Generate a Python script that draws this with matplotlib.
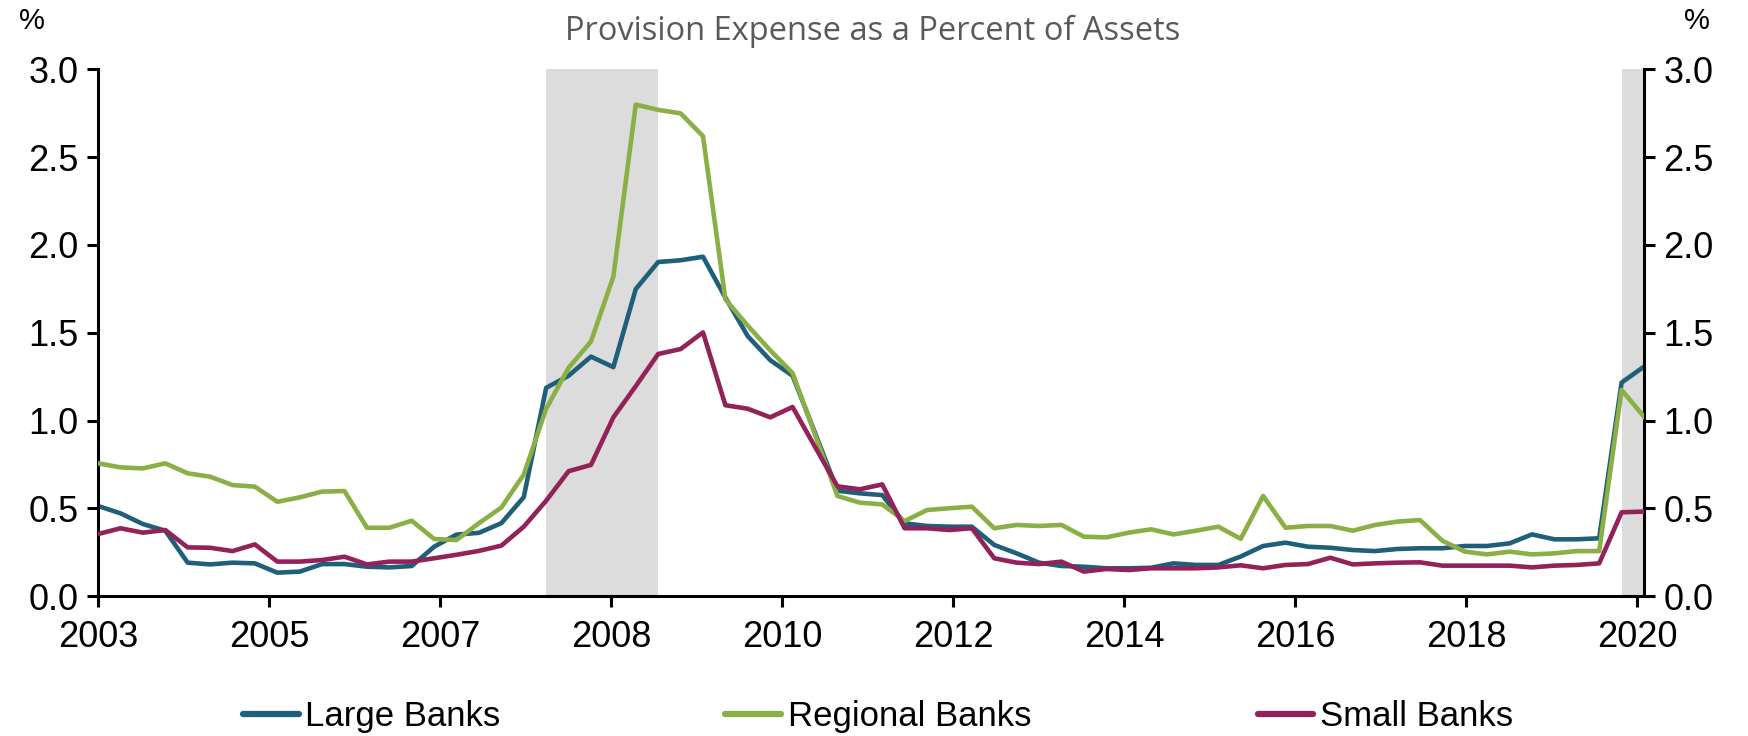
import numpy as np
import matplotlib
matplotlib.use("Agg")
import matplotlib.pyplot as plt
from matplotlib.lines import Line2D

# quarterly observations, 2003Q1 .. 2020Q2
large_banks = [
    0.513, 0.471, 0.410, 0.372, 0.190, 0.180, 0.190, 0.186, 0.133, 0.139,
    0.182, 0.182, 0.167, 0.163, 0.171, 0.281, 0.350, 0.360, 0.415, 0.563,
    1.186, 1.255, 1.364, 1.304, 1.749, 1.903, 1.913, 1.933, 1.700, 1.480,
    1.344, 1.255, 0.930, 0.600, 0.585, 0.575, 0.414, 0.399, 0.395, 0.395,
    0.291, 0.243, 0.190, 0.171, 0.167, 0.158, 0.158, 0.161, 0.186, 0.177,
    0.177, 0.225, 0.285, 0.304, 0.281, 0.275, 0.262, 0.256, 0.268, 0.272,
    0.272, 0.285, 0.285, 0.300, 0.351, 0.323, 0.323, 0.329, 1.216, 1.307,
]
regional_banks = [
    0.756, 0.733, 0.727, 0.756, 0.699, 0.680, 0.632, 0.623, 0.537, 0.562,
    0.595, 0.598, 0.389, 0.389, 0.429, 0.325, 0.319, 0.415, 0.504, 0.692,
    1.067, 1.300, 1.450, 1.820, 2.800, 2.770, 2.750, 2.620, 1.690, 1.540,
    1.400, 1.270, 0.920, 0.570, 0.532, 0.522, 0.427, 0.490, 0.500, 0.509,
    0.386, 0.405, 0.399, 0.405, 0.338, 0.334, 0.361, 0.380, 0.351, 0.372,
    0.395, 0.326, 0.570, 0.389, 0.399, 0.399, 0.372, 0.405, 0.424, 0.433,
    0.315, 0.253, 0.237, 0.253, 0.237, 0.243, 0.256, 0.256, 1.174, 1.022,
]
small_banks = [
    0.353, 0.386, 0.361, 0.376, 0.277, 0.275, 0.256, 0.294, 0.196, 0.196,
    0.205, 0.224, 0.180, 0.196, 0.196, 0.215, 0.235, 0.257, 0.287, 0.395,
    0.543, 0.711, 0.747, 1.018, 1.196, 1.379, 1.407, 1.502, 1.087, 1.067,
    1.018, 1.077, 0.850, 0.625, 0.608, 0.636, 0.386, 0.386, 0.376, 0.386,
    0.215, 0.190, 0.182, 0.196, 0.139, 0.154, 0.148, 0.158, 0.158, 0.158,
    0.163, 0.175, 0.158, 0.177, 0.182, 0.218, 0.180, 0.186, 0.190, 0.192,
    0.173, 0.173, 0.173, 0.173, 0.163, 0.173, 0.177, 0.186, 0.477, 0.481,
]
year_labels = ["2003", "2005", "2007", "2008", "2010",
               "2012", "2014", "2016", "2018", "2020"]
# recession spans, in quarter index (0 = 2003Q1)
recessions = [(20, 25), (68, 69)]

BLUE = "#1f5f7a"
GREEN = "#8aaf45"
PURPLE = "#93215a"
TICK_FONT = "Liberation Sans"

fig = plt.figure(figsize=(17.48, 7.36), dpi=100)
ax = fig.add_axes([0.0561, 0.1902, 0.8844, 0.7154])

x = np.arange(len(large_banks))
for start, end in recessions:
    ax.axvspan(start, end, color="#dcdcdc", lw=0, zorder=0)

ax.plot(x, regional_banks, color=GREEN, lw=3.3, zorder=3)
ax.plot(x, large_banks, color=BLUE, lw=3.3, zorder=2)
ax.plot(x, small_banks, color=PURPLE, lw=3.3, zorder=4)

ax.set_xlim(0, len(x) - 1)
ax.set_ylim(0, 3.0)
ax.set_xticks(np.linspace(0, 68.7, len(year_labels)))
ax.set_xticklabels(year_labels)
ax.set_yticks(np.arange(0, 3.01, 0.5))
ax.yaxis.set_major_formatter(matplotlib.ticker.FormatStrFormatter("%.1f"))

ax.spines["top"].set_visible(False)
for side in ["left", "right", "bottom"]:
    ax.spines[side].set_linewidth(2.2)
    ax.spines[side].set_color("black")

ax.tick_params(axis="both", direction="out", length=8, width=2.2,
               labelsize=26, pad=6)
ax.tick_params(axis="x", pad=9)
ax.tick_params(axis="y", right=True, labelright=True)
for lab in ax.get_xticklabels() + ax.get_yticklabels():
    lab.set_fontfamily(TICK_FONT)

fig.text(0.499, 0.957, "Provision Expense as a Percent of Assets",
         ha="center", va="center", fontsize=23.5, color="#595959",
         family="Open Sans")
fig.text(0.018, 0.972, "%", ha="center", va="center", fontsize=21,
         family=TICK_FONT)
fig.text(0.971, 0.972, "%", ha="center", va="center", fontsize=21,
         family=TICK_FONT)

entries = [("Large Banks", BLUE, 0.139), ("Regional Banks", GREEN, 0.415),
           ("Small Banks", PURPLE, 0.7195)]
for name, col, xpos in entries:
    h = Line2D([], [], color=col, lw=4.5, solid_capstyle="round")
    fig.legend(handles=[h], labels=[name], loc="center left",
               bbox_to_anchor=(xpos, 0.026), frameon=False,
               borderpad=0, borderaxespad=0, handlelength=1.6,
               handletextpad=0.2, prop={"family": TICK_FONT, "size": 25})

fig.savefig("out.png", dpi=100)
